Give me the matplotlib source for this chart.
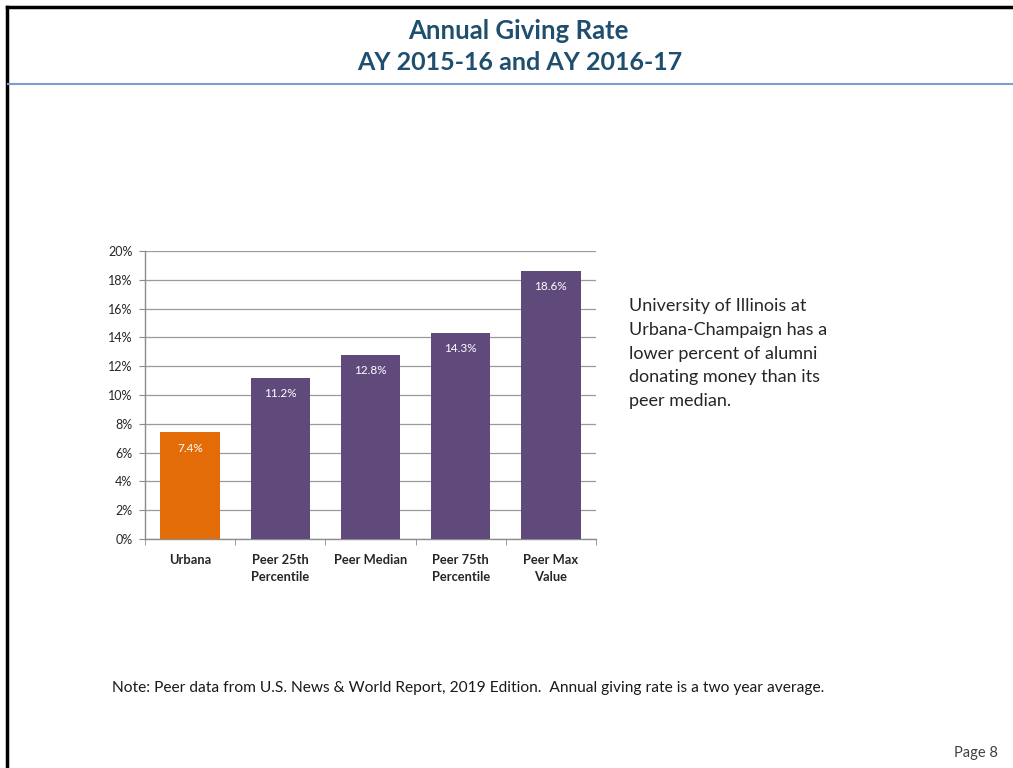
import matplotlib.pyplot as plt
import numpy as np

# chart data
categories = ["Urbana", "Peer 25th\nPercentile", "Peer Median", "Peer 75th\nPercentile", "Peer Max\nValue"]
giving_rates = [7.4, 11.2, 12.8, 14.3, 18.6]
bar_colors = ["#E36C09", "#604A7B", "#604A7B", "#604A7B", "#604A7B"]
y_ticks = [0, 2, 4, 6, 8, 10, 12, 14, 16, 18, 20]

title_lines = ["Annual Giving Rate", "AY 2015-16 and AY 2016-17"]
side_note = ("University of Illinois at\nUrbana-Champaign has a\nlower percent of alumni\n"
             "donating money than its\npeer median.")
footnote = ("Note: Peer data from U.S. News & World Report, 2019 Edition.  "
            "Annual giving rate is a two year average.")
page_label = "Page 8"

plt.rcParams["font.family"] = ["Lato", "DejaVu Sans"]

fig = plt.figure(figsize=(10.13, 7.68), dpi=100)
W, H = 1013, 768


def fx(px):
    return px / W


def fy(py):
    return 1 - py / H


# slide frame: black top/left border and blue rule under the title
fig.add_artist(plt.Line2D([fx(7), 1], [fy(7), fy(7)], color="black", lw=2.5))
fig.add_artist(plt.Line2D([fx(7), fx(7)], [fy(7), 0], color="black", lw=2.5))
fig.add_artist(plt.Line2D([fx(8), 1], [fy(84), fy(84)], color="#7BA0CD", lw=1.5))

fig.text(fx(518), fy(31), title_lines[0], ha="center", va="center", fontsize=18.5,
         fontweight="bold", color="#1F4E6E")
fig.text(fx(520), fy(63), title_lines[1], ha="center", va="center", fontsize=18,
         fontweight="bold", color="#1F4E6E")

ax = fig.add_axes([fx(145), fy(539), fx(596) - fx(145), fy(251) - fy(539)])
x = np.arange(len(categories))
rects = ax.bar(x, giving_rates, width=0.66, color=bar_colors, zorder=3)
for rect, val in zip(rects, giving_rates):
    ax.text(rect.get_x() + rect.get_width() / 2, val - 1.1, f"{val:.1f}%",
            ha="center", va="center", fontsize=8.5, color="white", zorder=4)

ax.set_xlim(-0.5, len(categories) - 0.5)
ax.set_ylim(0, 20)
ax.set_yticks(y_ticks, [f"{t}%" for t in y_ticks])
ax.set_xticks(x, categories)
ax.set_xticks(np.arange(len(categories) + 1) - 0.5, minor=True)
ax.tick_params(axis="x", which="major", length=0, pad=11, labelsize=9.3, labelcolor="#262626")
ax.tick_params(axis="x", which="minor", length=4, color="#8c8c8c", direction="out")
ax.tick_params(axis="y", length=4, color="#8c8c8c", labelsize=9, labelcolor="#262626", pad=5)
for lbl in ax.get_xticklabels():
    lbl.set_fontweight("bold")
    lbl.set_linespacing(1.45)
ax.grid(axis="y", color="#9a9a9a", lw=0.9, zorder=0)
for side in ["top", "right"]:
    ax.spines[side].set_visible(False)
for side in ["left", "bottom"]:
    ax.spines[side].set_color("#8c8c8c")
    ax.spines[side].set_linewidth(1)

fig.text(fx(629), fy(305) + 0.009, side_note, ha="left", va="top", fontsize=13,
         color="#262626", linespacing=1.6)
fig.text(fx(112), fy(688), footnote, ha="left", va="center", fontsize=11.2, color="#1a1a1a")
fig.text(fx(998), fy(753), page_label, ha="right", va="center", fontsize=10.5, color="#404040")

fig.savefig("out.png", dpi=100)
